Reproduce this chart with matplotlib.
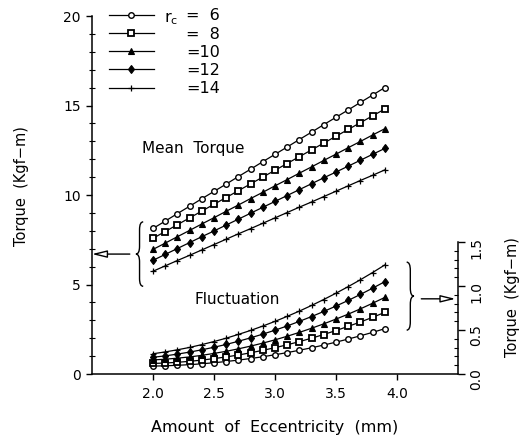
import numpy as np
import matplotlib
matplotlib.use("Agg")
import matplotlib.pyplot as plt
from matplotlib.path import Path
from matplotlib.patches import PathPatch
from matplotlib.ticker import MultipleLocator, FixedLocator

plt.rcParams['font.family'] = ['DejaVu Sans']

# eccentricity in mm
eccentricity = [2.0, 2.1, 2.2, 2.3, 2.4, 2.5, 2.6, 2.7, 2.8, 2.9,
                3.0, 3.1, 3.2, 3.3, 3.4, 3.5, 3.6, 3.7, 3.8, 3.9]

rc_labels = ['=\u20076', '=\u20078', '=10', '=12', '=14']

# mean torque (Kgf-m), left axis
mean_rc6 = [8.13, 8.54, 8.96, 9.37, 9.79, 10.20, 10.61, 11.03, 11.44, 11.86,
            12.27, 12.68, 13.10, 13.51, 13.93, 14.34, 14.75, 15.17, 15.58, 16.00]
mean_rc8 = [7.58, 7.96, 8.34, 8.72, 9.10, 9.48, 9.86, 10.24, 10.62, 11.00,
            11.38, 11.76, 12.14, 12.52, 12.90, 13.28, 13.66, 14.04, 14.42, 14.80]
mean_rc10 = [6.96, 7.31, 7.67, 8.02, 8.38, 8.73, 9.09, 9.44, 9.80, 10.15,
             10.51, 10.86, 11.22, 11.57, 11.93, 12.28, 12.64, 12.99, 13.35, 13.70]
mean_rc12 = [6.35, 6.68, 7.01, 7.34, 7.67, 7.99, 8.32, 8.65, 8.98, 9.31,
             9.64, 9.97, 10.30, 10.63, 10.96, 11.28, 11.61, 11.94, 12.27, 12.60]
mean_rc14 = [5.74, 6.04, 6.34, 6.63, 6.93, 7.23, 7.53, 7.83, 8.12, 8.42,
             8.72, 9.02, 9.32, 9.61, 9.91, 10.21, 10.51, 10.81, 11.10, 11.40]

# torque fluctuation (Kgf-m), right axis
fluct_rc6 = [0.090, 0.093, 0.099, 0.106, 0.116, 0.128, 0.142, 0.158, 0.176, 0.196,
             0.219, 0.243, 0.270, 0.298, 0.329, 0.362, 0.397, 0.434, 0.473, 0.515]
fluct_rc8 = [0.120, 0.125, 0.133, 0.144, 0.158, 0.175, 0.194, 0.216, 0.241, 0.269,
             0.299, 0.332, 0.368, 0.407, 0.449, 0.494, 0.541, 0.591, 0.644, 0.700]
fluct_rc10 = [0.160, 0.168, 0.180, 0.194, 0.212, 0.234, 0.258, 0.286, 0.317, 0.351,
              0.388, 0.429, 0.473, 0.520, 0.570, 0.624, 0.680, 0.740, 0.804, 0.870]
fluct_rc12 = [0.190, 0.206, 0.226, 0.249, 0.275, 0.304, 0.336, 0.372, 0.411, 0.453,
              0.498, 0.546, 0.598, 0.653, 0.711, 0.772, 0.836, 0.904, 0.975, 1.049]
fluct_rc14 = [0.230, 0.251, 0.275, 0.302, 0.334, 0.369, 0.407, 0.450, 0.495, 0.545,
              0.598, 0.655, 0.715, 0.779, 0.847, 0.918, 0.993, 1.071, 1.153, 1.239]

mean_series = [mean_rc6, mean_rc8, mean_rc10, mean_rc12, mean_rc14]
fluct_series = [fluct_rc6, fluct_rc8, fluct_rc10, fluct_rc12, fluct_rc14]

marker_styles = [
    dict(marker='o', markersize=4.0, markerfacecolor='white', markeredgewidth=1.0),
    dict(marker='s', markersize=3.8, markerfacecolor='white', markeredgewidth=1.3),
    dict(marker='^', markersize=4.0, markerfacecolor='black', markeredgewidth=0.8),
    dict(marker='d', markersize=4.5, markerfacecolor='black', markeredgewidth=0.8),
    dict(marker='+', markersize=4.5, markeredgewidth=0.9),
]


def curly_brace(ax, x, y0, y1, width, **kw):
    # width > 0 draws "{" with the tip on the left, width < 0 draws "}"
    ym = (y0 + y1) / 2
    q = (y1 - y0) * 0.12
    tip = x - width / 2
    end = x + width / 2
    verts = [(end, y1), (x, y1), (x, y1 - q), (x, ym + q), (x, ym), (tip, ym),
             (x, ym), (x, ym - q), (x, y0 + q), (x, y0), (end, y0)]
    codes = [Path.MOVETO, Path.CURVE3, Path.CURVE3, Path.LINETO, Path.CURVE3, Path.CURVE3,
             Path.CURVE3, Path.CURVE3, Path.LINETO, Path.CURVE3, Path.CURVE3]
    ax.add_patch(PathPatch(Path(verts, codes), fill=False, lw=1.0, color='black',
                           clip_on=False, **kw))


fig = plt.figure(figsize=(5.28, 4.40), dpi=100)
ax = fig.add_axes([0.1742, 0.15, 0.693, 0.8136])
ax2 = ax.twinx()

handles = []
for ys, style in zip(mean_series, marker_styles):
    h, = ax.plot(eccentricity, ys, color='black', lw=0.9, markeredgecolor='black', **style)
    handles.append(h)
for ys, style in zip(fluct_series, marker_styles):
    ax2.plot(eccentricity, ys, color='black', lw=0.9, markeredgecolor='black', **style)

# left axis: torque
ax.set_xlim(1.5, 4.5)
ax.set_ylim(0, 20)
ax.set_xticks([2.0, 2.5, 3.0, 3.5, 4.0])
ax.set_xticklabels(['2.0', '2.5', '3.0', '3.5', '4.0'])
ax.yaxis.set_major_locator(MultipleLocator(5))
ax.yaxis.set_minor_locator(MultipleLocator(1))
ax.tick_params(axis='both', which='major', direction='out', length=4, width=1,
               labelsize=10, pad=4)
ax.tick_params(axis='x', pad=5)
ax.tick_params(axis='y', which='minor', direction='inout', length=4, width=0.8)
for side in ['top', 'right']:
    ax.spines[side].set_visible(False)
ax.spines['left'].set_linewidth(1.1)
ax.spines['bottom'].set_linewidth(1.1)

ax.set_xlabel('Amount  of  Eccentricity  (mm)', fontsize=11.5, labelpad=14)
fig.text(22 / 528, 1 - 186 / 440, 'Torque  (Kgf\u2212m)', rotation=90,
         ha='center', va='center', fontsize=10.5)

# right axis: fluctuation, only the lower part carries a scale
ax2.set_ylim(0, 4.07)
ax2.yaxis.set_major_locator(FixedLocator([0.0, 0.5, 1.0, 1.5]))
ax2.yaxis.set_minor_locator(FixedLocator(np.arange(0, 1.51, 0.1)))
ax2.set_yticklabels(['0.0', '0.5', '1.0', '1.5'])
ax2.tick_params(axis='y', which='major', direction='out', length=5, width=1,
                labelsize=10, labelrotation=90, pad=3)
ax2.tick_params(axis='y', which='minor', direction='in', length=3, width=0.8)
for side in ['top', 'left', 'bottom']:
    ax2.spines[side].set_visible(False)
ax2.spines['right'].set_bounds(0, 1.5)
ax2.spines['right'].set_linewidth(1.1)
ax2.text(1.150, 0.215, 'Torque  (Kgf\u2212m)', transform=ax2.transAxes, rotation=90,
         ha='center', va='center', fontsize=10.5)

# group labels, braces and arrows pointing at each scale
ax.text(1.91, 12.6, 'Mean  Torque', ha='left', va='center', fontsize=11)
ax.text(2.34, 4.15, 'Fluctuation', ha='left', va='center', fontsize=11)
curly_brace(ax, 1.89, 4.9, 8.5, 0.06)
curly_brace(ax, 4.11, 2.45, 6.25, -0.06)
arrow = dict(arrowstyle='-|>,head_length=0.9,head_width=0.22', fc='white', ec='black',
             lw=1.0, shrinkA=0, shrinkB=0)
ax.annotate('', xy=(1.5, 6.7), xytext=(1.81, 6.7), arrowprops=arrow, annotation_clip=False)
ax.annotate('', xy=(4.48, 4.2), xytext=(4.20, 4.2), arrowprops=arrow, annotation_clip=False)

leg = ax.legend(handles, rc_labels, loc='upper left', bbox_to_anchor=(0.046, 1.021),
                frameon=False, fontsize=11.5, handlelength=2.8, handletextpad=2.05,
                labelspacing=0.2, borderpad=0, borderaxespad=0, numpoints=1)
ax.text(0.197, 0.994, 'r$_\\mathregular{c}$', transform=ax.transAxes,
        ha='left', va='center', fontsize=11.5)

fig.savefig('out.png', dpi=100)
